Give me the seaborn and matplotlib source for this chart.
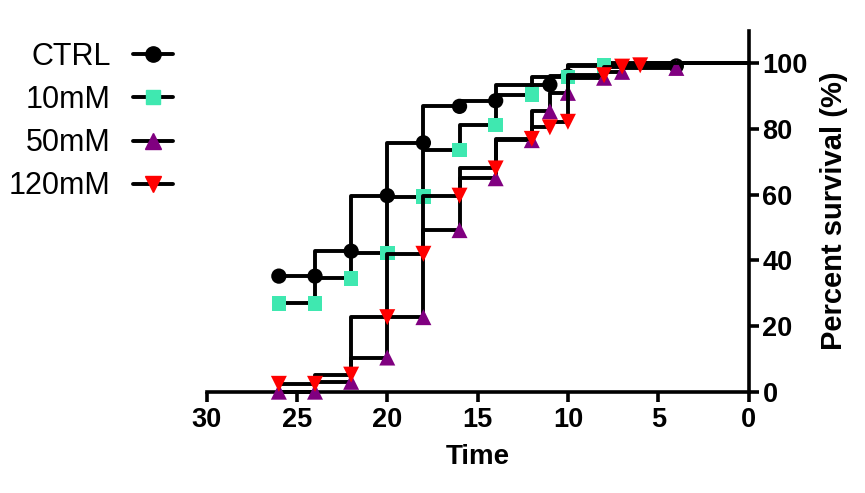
import matplotlib
matplotlib.use("Agg")
import matplotlib.pyplot as plt
from matplotlib.lines import Line2D
import numpy as np
import pandas as pd
import seaborn as sns

# ---- data ----
groups = ["CTRL", "10mM", "50mM", "120mM"]

ctrl_time = [0, 4, 10, 11, 14, 16, 18, 20, 22, 24, 26]
ctrl_surv = [100, 99.2, 96.2, 93.5, 88.6, 86.9, 75.8, 59.7, 42.8, 35.2, 35.2]

mm10_time = [0, 8, 10, 12, 14, 16, 18, 20, 22, 24, 26]
mm10_surv = [100, 99.4, 95.9, 90.5, 81.2, 73.6, 59.4, 42.3, 34.5, 26.9, 26.9]

mm50_time = [0, 4, 7, 8, 10, 11, 12, 14, 16, 18, 20, 22, 24, 26]
mm50_surv = [100, 98.6, 97.4, 95.6, 91.0, 85.4, 76.6, 65.0, 49.2, 22.7, 10.4, 3.0, 0, 0]

mm120_time = [0, 6, 7, 8, 10, 11, 12, 14, 16, 18, 20, 22, 24, 26]
mm120_surv = [100, 99.4, 99.0, 96.4, 82.2, 80.5, 77.0, 68.0, 59.7, 42.0, 22.7, 5.2, 2.4, 2.4]

x_ticks = [0, 5, 10, 15, 20, 25, 30]
y_ticks = [0, 20, 40, 60, 80, 100]

series = {
    "CTRL": (ctrl_time, ctrl_surv),
    "10mM": (mm10_time, mm10_surv),
    "50mM": (mm50_time, mm50_surv),
    "120mM": (mm120_time, mm120_surv),
}
colors = {"CTRL": "#000000", "10mM": "#3FE8B0", "50mM": "#800080", "120mM": "#FF0000"}
markers = {"CTRL": "o", "10mM": "s", "50mM": "^", "120mM": "v"}
msizes = {"CTRL": 11, "10mM": 10.5, "50mM": 11.5, "120mM": 11.5}

sns.set_style("ticks")
plt.rcParams["font.family"] = ["Liberation Sans", "DejaVu Sans"]
for key in ["text.color", "axes.labelcolor", "xtick.color", "ytick.color", "axes.edgecolor"]:
    plt.rcParams[key] = "black"

fig = plt.figure(figsize=(8.65, 4.93), dpi=100)
ax = fig.add_axes([206.6 / 865, 1 - 391.7 / 493, (748.6 - 206.6) / 865, (391.7 - 30.5) / 493])

handles = []
for i, g in enumerate(groups):
    t, s = series[g]
    df = pd.DataFrame({"Time": t, "Survival": s})
    sns.lineplot(data=df, x="Time", y="Survival", ax=ax, color="black",
                 drawstyle="steps-post", linewidth=2.8, estimator=None, sort=False,
                 zorder=2 + 2 * i, clip_on=False)
    sns.scatterplot(data=df.iloc[1:], x="Time", y="Survival", ax=ax,
                    marker=markers[g], color=colors[g], s=msizes[g] ** 2,
                    edgecolor="none", linewidth=0, zorder=3 + 2 * i, clip_on=False)
    handles.append(Line2D([], [], color="black", lw=2.8, marker=markers[g],
                          markerfacecolor=colors[g], markeredgecolor=colors[g],
                          markersize=msizes[g]))

ax.set_xlim(30, 0)
ax.set_ylim(0, 110)
ax.set_xticks(x_ticks)
ax.set_yticks(y_ticks)

ax.yaxis.tick_right()
ax.yaxis.set_label_position("right")
for side in ["left", "top"]:
    ax.spines[side].set_visible(False)
for side in ["right", "bottom"]:
    ax.spines[side].set_visible(True)
    ax.spines[side].set_linewidth(2.6)
    ax.spines[side].set_color("black")

ax.tick_params(axis="both", which="major", length=7, width=2.6, color="black",
               labelcolor="black", labelsize=19.5, direction="out")
ax.tick_params(axis="x", pad=4)
ax.tick_params(axis="y", pad=3)
for lab in ax.get_xticklabels() + ax.get_yticklabels():
    lab.set_fontweight("bold")

ax.set_xlabel("Time", fontsize=20, fontweight="bold", labelpad=8, color="black")
ax.set_ylabel("Percent survival (%)", fontsize=21, fontweight="bold", labelpad=9,
              rotation=90, color="black")

leg = ax.legend(handles, groups, loc="upper right",
                bbox_to_anchor=(173 / 865, 1 - 42 / 493), bbox_transform=fig.transFigure,
                frameon=False, markerfirst=False, fontsize=22, handlelength=1.32,
                handletextpad=0.72, labelspacing=0.43, borderpad=0, borderaxespad=0)
for txt in leg.get_texts():
    txt.set_color("black")

fig.savefig("out.png", dpi=100)
